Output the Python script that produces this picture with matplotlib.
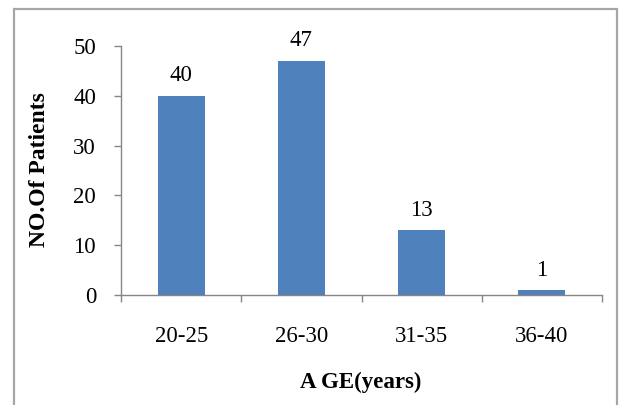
import matplotlib.pyplot as plt
from matplotlib.patches import Rectangle

# data
age_groups = ['20-25', '26-30', '31-35', '36-40']
patients = [40, 47, 13, 1]
y_ticks = [0, 10, 20, 30, 40, 50]

W, H = 621, 405
fig = plt.figure(figsize=(W / 100, H / 100), dpi=100)
plt.rcParams['font.family'] = ['Liberation Serif', 'DejaVu Serif']

# outer chart border (bottom edge runs off the image)
fig.patches.append(Rectangle((14 / W, -0.05), (617 - 14) / W, (405 - 9) / H + 0.05,
                             transform=fig.transFigure, fill=False,
                             edgecolor='#a6a6a6', linewidth=1.6))

ax = fig.add_axes([121 / W, (H - 295) / H, (602 - 121) / W, (295 - 46) / H])
x = list(range(len(age_groups)))
bars = ax.bar(x, patients, width=0.39, color='#4f81bd')

for xi, v in zip(x, patients):
    ax.annotate(str(v), (xi, v), xytext=(0, 20), textcoords='offset pixels',
                ha='center', va='center', fontsize=16.5)

ax.set_xlim(-0.5, len(age_groups) - 0.5)
ax.set_ylim(0, 50)
ax.set_yticks(y_ticks)
ax.set_xticks(x)
ax.set_xticklabels(age_groups)
ax.set_xticks([i - 0.5 for i in range(len(age_groups) + 1)], minor=True)

axis_col = '#868686'
for s in ['top', 'right']:
    ax.spines[s].set_visible(False)
for s in ['left', 'bottom']:
    ax.spines[s].set_color(axis_col)
    ax.spines[s].set_linewidth(1.0)

ax.tick_params(axis='y', direction='out', length=5, width=1, color=axis_col,
               labelsize=16.5, pad=13)
ax.tick_params(axis='x', which='major', length=0, labelsize=16.5, pad=22)
ax.tick_params(axis='x', which='minor', direction='out', length=5, width=1,
               color=axis_col)

fig.text(361 / W, (H - 382) / H, 'A GE(years)', ha='center', va='center',
         fontsize=16.5, fontweight='bold')
fig.text(40 / W, (H - 170) / H, 'NO.Of Patients', ha='center', va='center',
         fontsize=17, fontweight='bold', rotation=90)

fig.savefig('out.png', dpi=100)
